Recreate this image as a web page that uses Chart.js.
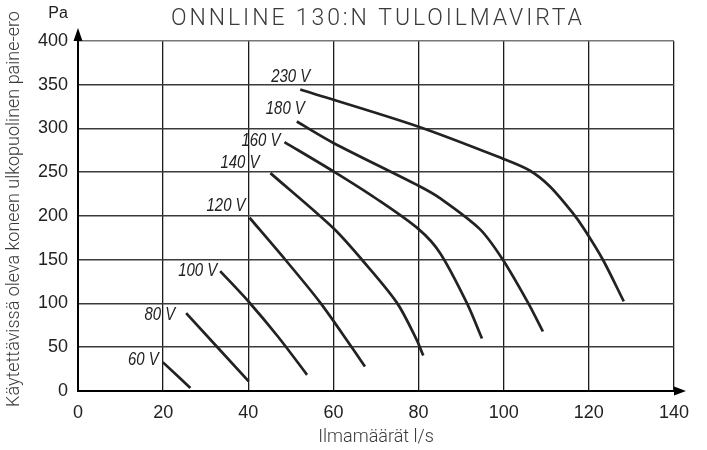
<!DOCTYPE html>
<html>
<head>
<meta charset="utf-8">
<script src="https://cdn.jsdelivr.net/npm/chart.js@4/dist/chart.umd.min.js"></script>
<style>
  html, body { margin: 0; padding: 0; background: #fff; }
  #wrap { width: 707px; height: 450px; }
</style>
</head>
<body>
<div id="wrap"><canvas id="fan" width="707" height="450"></canvas></div>
<script>
// Onnline 130:n tuloilmavirta — paine-ero vs ilmamäärä eri jännitteillä

const TITLE = "ONNLINE 130:N TULOILMAVIRTA";
const X_TITLE = "Ilmamäärät l/s";
const Y_TITLE = "Käytettävissä oleva koneen ulkopuolinen paine-ero";
const Y_UNIT = "Pa";

const xTicks = [0, 20, 40, 60, 80, 100, 120, 140];
const yTicks = [0, 50, 100, 150, 200, 250, 300, 350, 400];

const voltages = ["60 V", "80 V", "100 V", "120 V", "140 V", "160 V", "180 V", "230 V"];

// [l/s, Pa] luettu kuvasta
const curve60 = [[19.9, 33], [26.4, 3.5]];
const curve80 = [[25.4, 89], [40.1, 11]];
const curve100 = [[33.4, 137], [40.1, 102], [47, 62], [53.8, 18.5]];
const curve120 = [[40.3, 198], [48.7, 150], [56.9, 101], [64.3, 50], [67.4, 28]];
const curve140 = [[45.2, 249], [60, 186], [66.7, 150], [74.9, 101], [79.5, 59], [81.1, 40.5]];
const curve160 = [[48.5, 284.5], [60, 251], [70, 220], [80, 185], [85, 158], [91.3, 101], [94.9, 60]];
const curve180 = [[51.4, 308], [60, 283.5], [80, 234.6], [85, 220.5], [94.4, 185], [99.8, 150], [105.7, 101], [109.2, 68]];
const curve230 = [[52.2, 344.5], [80, 302], [99.8, 265.5], [106.1, 252], [110.8, 234], [116.2, 203.5], [119, 184.3], [123.3, 150], [128.2, 102.4]];

const curves = [curve60, curve80, curve100, curve120, curve140, curve160, curve180, curve230];

// label offset from the curve's first point, px (right edge of text, vertical middle)
const labelOffsets = [[-4, -2], [-11, 2], [-3, 0], [-4, -12], [-11, -10], [-4, -1], [8, -13], [10, -13]];

const INK = "#222";
const TEXT = "#3a3a3a";

const decor = {
  id: "decor",
  afterDatasetsDraw(chart) {
    const { ctx } = chart;
    ctx.save();
    ctx.fillStyle = INK;
    ctx.font = 'italic 18px "Liberation Sans", Arial, sans-serif';
    ctx.textAlign = "right";
    ctx.textBaseline = "middle";
    chart.data.datasets.forEach((ds, i) => {
      const p = chart.getDatasetMeta(i).data[0];
      const [dx, dy] = labelOffsets[i];
      // kapeampi kirjasin kuten alkuperäisessä
      ctx.save();
      ctx.translate(p.x + dx, p.y + dy);
      ctx.scale(0.83, 1);
      ctx.fillText(ds.label, 0, 0);
      ctx.restore();
    });
    ctx.restore();
  },
  afterDraw(chart) {
    const { ctx, scales: { x, y } } = chart;
    const x0 = x.getPixelForValue(0), xEnd = x.getPixelForValue(140);
    const y0 = y.getPixelForValue(0), yTop = y.getPixelForValue(400);
    ctx.save();
    ctx.fillStyle = "#000";
    ctx.strokeStyle = "#000";
    ctx.lineWidth = 2;
    // akselien nuolet
    ctx.beginPath();
    ctx.moveTo(x0, yTop); ctx.lineTo(x0, yTop - 2);
    ctx.moveTo(xEnd, y0); ctx.lineTo(xEnd + 2, y0);
    ctx.stroke();
    ctx.beginPath();
    ctx.moveTo(x0, yTop - 13); ctx.lineTo(x0 - 4.5, yTop); ctx.lineTo(x0 + 4.5, yTop); ctx.closePath();
    ctx.fill();
    ctx.beginPath();
    ctx.moveTo(xEnd + 12, y0); ctx.lineTo(xEnd, y0 - 4.5); ctx.lineTo(xEnd, y0 + 4.5); ctx.closePath();
    ctx.fill();

    // otsikot
    ctx.fillStyle = TEXT;
    ctx.textBaseline = "middle";
    ctx.textAlign = "center";
    ctx.font = '300 23px Roboto, "DejaVu Sans", sans-serif';
    ctx.letterSpacing = "2.9px";
    ctx.fillText(TITLE, 378, 19);
    ctx.letterSpacing = "0px";

    ctx.font = '300 18px Roboto, "DejaVu Sans", sans-serif';
    ctx.fillText(X_TITLE, 376, 437);

    ctx.font = '16px "Liberation Sans", Arial, sans-serif';
    ctx.fillStyle = INK;
    ctx.fillText(Y_UNIT, 58, 14);

    ctx.fillStyle = TEXT;
    ctx.font = '300 18px Roboto, "DejaVu Sans", sans-serif';
    ctx.translate(14, 209);
    ctx.rotate(-Math.PI / 2);
    ctx.fillText(Y_TITLE, 0, 0);
    ctx.restore();
  }
};

new Chart(document.getElementById("fan"), {
  type: "line",
  data: {
    datasets: curves.map((c, i) => ({
      label: voltages[i],
      data: c.map(([x, y]) => ({ x, y })),
      borderColor: INK,
      borderWidth: 2.7,
      pointRadius: 0,
      fill: false,
      tension: 0.3,
    })),
  },
  options: {
    responsive: false,
    animation: false,
    layout: { padding: { left: 0, right: 33, top: 41, bottom: 0 } },
    plugins: {
      legend: { display: false },
      tooltip: { enabled: false },
    },
    scales: {
      x: {
        type: "linear",
        min: 0, max: 140,
        afterBuildTicks: s => { s.ticks = xTicks.map(v => ({ value: v })); },
        afterFit: s => { s.height = 59; },
        ticks: { color: INK, padding: 11, font: { family: '"Liberation Sans", Arial, sans-serif', size: 18 } },
        grid: { color: "#1a1a1a", lineWidth: 1.3, drawTicks: false },
        border: { display: true, color: "#000", width: 2 },
      },
      y: {
        type: "linear",
        min: 0, max: 400,
        afterBuildTicks: s => { s.ticks = yTicks.map(v => ({ value: v })); },
        afterFit: s => { s.width = 78; },
        ticks: { color: INK, padding: 10, font: { family: '"Liberation Sans", Arial, sans-serif', size: 18 } },
        grid: {
          color: c => (c.tick && c.tick.value === 400 ? "#777" : "#3a3a3a"),
          lineWidth: 1.6,
          drawTicks: false,
        },
        border: { display: true, color: "#000", width: 2 },
      },
    },
  },
  plugins: [decor],
});
</script>
</body>
</html>
